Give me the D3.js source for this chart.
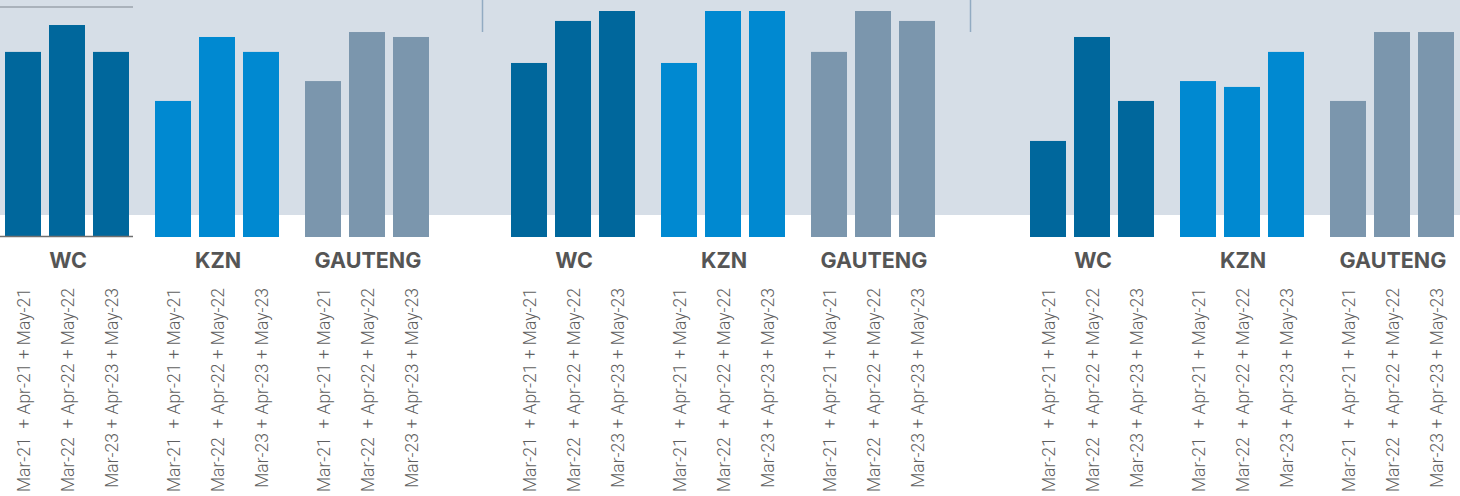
<!DOCTYPE html>
<html>
<head>
<meta charset="utf-8">
<script src="https://cdn.jsdelivr.net/npm/d3@7"></script>
<style>
  html, body { margin: 0; padding: 0; background: #fff; }
  svg { display: block; }
  .region { font-family: Inter, 'DejaVu Sans', sans-serif; font-weight: 700; font-size: 21.5px; fill: #555; }
  .period { font-family: Roboto, 'DejaVu Sans', sans-serif; font-weight: 300; font-size: 17.5px; fill: #5f5f5f; white-space: pre; }
</style>
</head>
<body>
<svg id="chart"></svg>
<script>
// three panels, each with the same three regions and three periods
const panels = ['p1', 'p2', 'p3']
const regions = ['WC', 'KZN', 'GAUTENG']
const periods = [
	'Mar-21  + Apr-21 + May-21',
	'Mar-22  + Apr-22 + May-22',
	'Mar-23 + Apr-23 + May-23'
]

// bar values per panel, region order WC, KZN, GAUTENG, each with the three periods
const panel1 = [
	[81.9, 93.8, 81.9],
	[60.2, 88.5, 81.9],
	[69.0, 90.7, 88.5]
]
const panel2 = [
	[77.0, 95.6, 100],
	[77.0, 100, 100],
	[81.9, 100, 95.6]
]
const panel3 = [
	[42.5, 88.5, 60.2],
	[69.0, 66.4, 81.9],
	[60.2, 90.7, 90.7]
]
const panelValues = [panel1, panel2, panel3]

const colors = ['#00679c', '#0089d1', '#7b96ad']

const width = 1460
const height = 496
const baseY = 237

const svg = d3.select('#chart').attr('width', width).attr('height', height)

// grey band behind the bars
svg.append('rect')
	.attr('x', 0).attr('y', 0)
	.attr('width', width).attr('height', 215)
	.attr('fill', '#d6dee7')

// leftover rules from the source layout
svg.append('line')
	.attr('x1', 0).attr('x2', 133).attr('y1', 7).attr('y2', 7)
	.attr('stroke', '#9ba3ac').attr('stroke-width', 1.5)
svg.selectAll('line.divider')
	.data([482.5, 970.5])
	.join('line')
	.attr('class', 'divider')
	.attr('x1', (d) => d).attr('x2', (d) => d)
	.attr('y1', 0).attr('y2', 32)
	.attr('stroke', '#92abc2').attr('stroke-width', 1.5)

const panelX = d3.scaleOrdinal().domain(panels).range([5, 511, 1030])
const groupX = d3.scaleBand().domain(regions).range([0, 450]).paddingInner(0)
const barX = d3.scaleBand().domain(periods).range([0, 124]).paddingInner(8 / 44)
const y = d3.scaleLinear().domain([0, 100]).range([baseY, 11])
const color = d3.scaleOrdinal().domain(regions).range(colors)

panels.forEach((p, pi) => {
	const g = svg.append('g').attr('transform', `translate(${panelX(p)},0)`)

	regions.forEach((r, ri) => {
		const gg = g.append('g').attr('transform', `translate(${groupX(r)},0)`)
		const rows = periods.map((per, k) => ({ period: per, value: panelValues[pi][ri][k] }))

		gg.selectAll('rect')
			.data(rows)
			.join('rect')
			.attr('x', (d) => barX(d.period))
			.attr('y', (d) => y(d.value))
			.attr('width', barX.bandwidth())
			.attr('height', (d) => baseY - y(d.value))
			.attr('fill', color(r))

		gg.append('text')
			.attr('class', 'region')
			.attr('x', 63)
			.attr('y', 268)
			.attr('text-anchor', 'middle')
			.text(r)

		gg.selectAll('text.period')
			.data(rows)
			.join('text')
			.attr('class', 'period')
			.attr('text-anchor', 'end')
			.attr('transform', (d) => `translate(${barX(d.period) + barX.bandwidth() / 2 + 1},288) rotate(-90)`)
			.attr('dy', '0.35em')
			.text((d) => d.period)
	})
})

// baseline under the first group only
svg.append('line')
	.attr('x1', 0).attr('x2', 133).attr('y1', baseY - 0.5).attr('y2', baseY - 0.5)
	.attr('stroke', '#6f6f6f').attr('stroke-width', 1.5)
</script>
</body>
</html>
